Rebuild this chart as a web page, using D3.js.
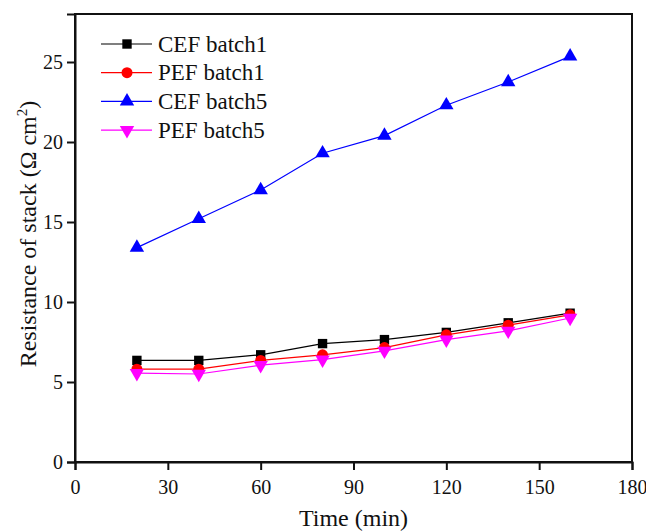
<!DOCTYPE html>
<html>
<head>
<meta charset="utf-8">
<script src="https://cdn.jsdelivr.net/npm/d3@7"></script>
<style>
  body { margin: 0; background: #fff; }
  svg { display: block; }
  text { font-family: "Liberation Serif", "Times New Roman", serif; fill: #111; }
</style>
</head>
<body>
<svg id="chart" width="646" height="531"></svg>
<script>
// Sampling times (min)
const times = [20, 40, 60, 80, 100, 120, 140, 160];

// Stack resistance (Ω cm²) for each run
const cefBatch1 = [6.35, 6.35, 6.7, 7.4, 7.65, 8.1, 8.7, 9.3];
const pefBatch1 = [5.8, 5.8, 6.35, 6.7, 7.15, 7.95, 8.55, 9.2];
const cefBatch5 = [13.4, 15.2, 17.0, 19.3, 20.4, 22.3, 23.75, 25.35];
const pefBatch5 = [5.55, 5.5, 6.05, 6.4, 6.95, 7.65, 8.2, 9.0];

const seriesNames = ["CEF batch1", "PEF batch1", "CEF batch5", "PEF batch5"];
const seriesColors = ["#000000", "#ff0000", "#0000ff", "#ff00ff"];
const seriesSymbols = ["square", "circle", "up", "down"];

const xTicks = [0, 30, 60, 90, 120, 150, 180];
const yTicks = [0, 5, 10, 15, 20, 25];

const series = [cefBatch1, pefBatch1, cefBatch5, pefBatch5].map((vals, i) => ({
  name: seriesNames[i],
  color: seriesColors[i],
  symbol: seriesSymbols[i],
  points: times.map((t, j) => ({ t, v: vals[j] }))
}));

const svg = d3.select("#chart");
const plotLeft = 75, plotRight = 632, plotTop = 14, plotBottom = 462;

const x = d3.scaleLinear().domain([0, 180]).range([plotLeft, plotRight]);
const y = d3.scaleLinear().domain([0, 28]).range([plotBottom, plotTop]);

// Marker path for a given series symbol
function markerPath(sym) {
  if (sym === "square") return d3.symbol().type(d3.symbolSquare).size(88)();
  if (sym === "circle") return d3.symbol().type(d3.symbolCircle).size(95)();
  return d3.symbol().type(d3.symbolTriangle).size(90)();
}
function markerTransform(sym, px, py) {
  if (sym === "down") return `translate(${px},${py}) rotate(180)`;
  return `translate(${px},${py})`;
}

// Plot frame
svg.append("rect")
  .attr("x", plotLeft).attr("y", plotTop)
  .attr("width", plotRight - plotLeft).attr("height", plotBottom - plotTop)
  .attr("fill", "none").attr("stroke", "#111").attr("stroke-width", 2);

// Axes
const xAxis = svg.append("g")
  .attr("transform", `translate(0,${plotBottom})`)
  .call(d3.axisBottom(x).tickValues(xTicks).tickSize(8).tickPadding(10).tickFormat(d3.format("d")));
const yAxis = svg.append("g")
  .attr("transform", `translate(${plotLeft},0)`)
  .call(d3.axisLeft(y).tickValues(yTicks).tickSize(8).tickPadding(4).tickFormat(d3.format("d")));

[xAxis, yAxis].forEach(g => {
  g.select(".domain").attr("stroke", "#111").attr("stroke-width", 2);
  g.selectAll(".tick line").attr("stroke", "#111").attr("stroke-width", 2);
  g.selectAll(".tick text")
    .attr("fill", "#111")
    .style("font-family", '"Liberation Serif", serif')
    .style("font-size", "20px");
});

// Axis titles
svg.append("text")
  .attr("x", (plotLeft + plotRight) / 2).attr("y", 526)
  .attr("text-anchor", "middle")
  .style("font-size", "24px")
  .text("Time (min)");

const yTitle = svg.append("text")
  .attr("transform", `translate(36,234) rotate(-90)`)
  .attr("text-anchor", "middle")
  .style("font-size", "24px");
yTitle.append("tspan").text("Resistance of stack (Ω cm");
yTitle.append("tspan").attr("dy", -9).style("font-size", "15px").text("2");
yTitle.append("tspan").attr("dy", 9).text(")");

// Lines and markers
const line = d3.line().x(d => x(d.t)).y(d => y(d.v));
series.forEach(s => {
  svg.append("path")
    .datum(s.points)
    .attr("d", line)
    .attr("fill", "none")
    .attr("stroke", s.color)
    .attr("stroke-width", 1.2);
});
series.forEach(s => {
  svg.append("g").selectAll("path")
    .data(s.points)
    .join("path")
    .attr("d", markerPath(s.symbol))
    .attr("transform", d => markerTransform(s.symbol, x(d.t), y(d.v)))
    .attr("fill", s.color);
});

// Legend
const legend = svg.append("g");
const legY0 = 44, legStep = 28.7;
series.forEach((s, i) => {
  const ly = legY0 + i * legStep;
  legend.append("line")
    .attr("x1", 101).attr("x2", 152).attr("y1", ly).attr("y2", ly)
    .attr("stroke", s.color).attr("stroke-width", 1.2);
  legend.append("path")
    .attr("d", markerPath(s.symbol))
    .attr("transform", markerTransform(s.symbol, 127, ly))
    .attr("fill", s.color);
  legend.append("text")
    .attr("x", 158).attr("y", ly + 7.5)
    .style("font-size", "23px")
    .text(s.name);
});
</script>
</body>
</html>
